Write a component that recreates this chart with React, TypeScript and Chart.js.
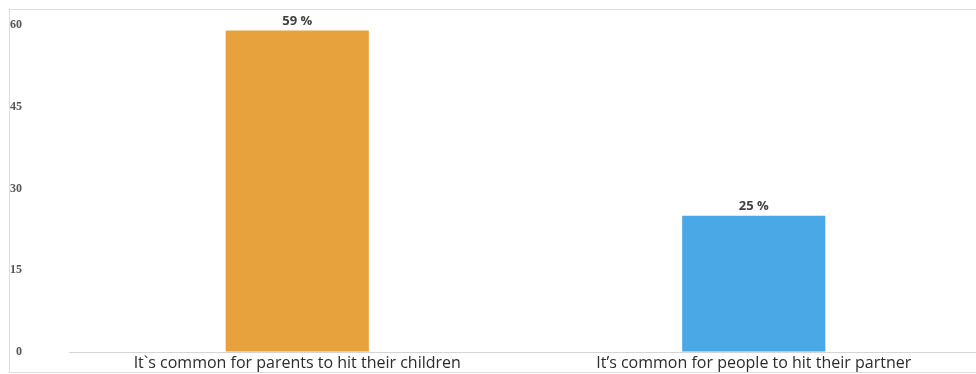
import React, { useEffect, useRef } from "react";
import { Chart, registerables } from "chart.js";

Chart.register(...registerables);

const categories = [
  "It`s common for parents to hit their children",
  "It’s common for people to hit their partner",
];
const values = [59, 25];
const barColors = ["#E8A23D", "#4BA8E6"];
const yTicks = [0, 15, 30, 45, 60];

// Writes "NN %" above each bar, taken from the bar's own value.
const valueLabels = {
  id: "valueLabels",
  afterDatasetsDraw(chart: any) {
    const ctx = chart.ctx;
    const meta = chart.getDatasetMeta(0);
    ctx.save();
    ctx.font = "bold 13px 'Open Sans', sans-serif";
    ctx.fillStyle = "#404040";
    ctx.textAlign = "center";
    ctx.textBaseline = "bottom";
    meta.data.forEach((bar: any, i: number) => {
      ctx.fillText(`${values[i]} %`, bar.x, bar.y - 3);
    });
    ctx.restore();
  },
};

export default function App() {
  const canvasRef = useRef<HTMLCanvasElement | null>(null);

  useEffect(() => {
    if (!canvasRef.current) return;
    const chart = new Chart(canvasRef.current, {
      type: "bar",
      data: {
        labels: categories,
        datasets: [
          {
            data: values,
            backgroundColor: barColors,
            borderWidth: 0,
            barPercentage: 0.3136,
            categoryPercentage: 1,
          },
        ],
      },
      options: {
        animation: false,
        responsive: false,
        maintainAspectRatio: false,
        layout: { padding: { top: 25, left: 0, right: 0, bottom: 0 } },
        plugins: {
          legend: { display: false },
          tooltip: { enabled: false },
        },
        scales: {
          x: {
            grid: { display: false, drawTicks: false },
            border: { display: true, color: "#d4d4d4", width: 1 },
            ticks: {
              padding: 2,
              color: "#2b2b2b",
              font: { family: "'Open Sans', sans-serif", size: 16 },
              maxRotation: 0,
              autoSkip: false,
            },
            afterFit: (s: any) => {
              s.height = 22;
            },
          },
          y: {
            min: 0,
            max: 60,
            afterBuildTicks: (s: any) => {
              s.ticks = yTicks.map((v) => ({ value: v }));
            },
            // invisible tick marks keep the labels well left of the plot
            grid: {
              display: true,
              drawOnChartArea: false,
              drawTicks: true,
              tickLength: 45,
              color: "rgba(0,0,0,0)",
            },
            border: { display: false },
            ticks: {
              padding: 2,
              color: "#555555",
              font: { family: "'Liberation Serif', serif", size: 12, weight: "bold" },
            },
            afterFit: (s: any) => {
              s.width = 69;
            },
          },
        },
      },
      plugins: [valueLabels],
    });
    return () => chart.destroy();
  }, []);

  return (
    <div
      style={{
        position: "fixed",
        left: 0,
        top: 0,
        width: 976,
        height: 374,
        overflow: "hidden",
        background: "#ffffff",
      }}
    >
      <div
        style={{
          position: "absolute",
          left: 9,
          top: 9,
          width: 990,
          height: 362,
          border: "1px solid #dedede",
        }}
      />
      <canvas
        ref={canvasRef}
        width={982}
        height={374}
        style={{ position: "absolute", left: 0, top: 0 }}
      />
    </div>
  );
}
